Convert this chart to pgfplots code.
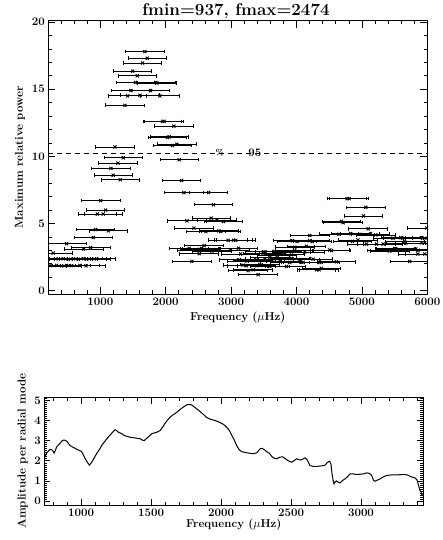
\documentclass[border=0pt]{standalone}
\usepackage{pgfplots}
\pgfplotsset{compat=1.18}
\pgfplotsset{idl/.style={
    scale only axis, anchor=south west,
    axis line style={line width=0.8pt},
    tick align=inside, xtick pos=both, ytick pos=both,
    xticklabel pos=lower, yticklabel pos=left,
    tick style={black, line width=0.6pt},
    major tick length=7pt, minor tick length=3.5pt,
    ticklabel style={font=\fontsize{11.5}{13}\selectfont\bfseries},
    /pgf/number format/assume math mode=true,
    /pgf/number format/1000 sep={},
    label style={font=\fontsize{11.5}{13}\selectfont\bfseries},
}}
\begin{document}
\begin{tikzpicture}[x=1pt,y=1pt]
\useasboundingbox (0,0) rectangle (443,540);
\node[font=\fontsize{17}{19}\selectfont\bfseries] at (236,529) {fmin=937, fmax=2474};
% top panel: maximum relative power
\begin{axis}[idl,
    at={(48.3pt,246pt)}, width=379pt, height=273.3pt,
    xmin=205, xmax=6000, ymin=-0.25, ymax=20.1,
    xtick={1000,2000,...,6000}, minor xtick={400,600,...,5800},
    ytick={0,5,...,20}, minor ytick={1,2,...,19},
    xlabel={Frequency ($\mu$Hz)}, ylabel={Maximum relative power},
    xlabel style={at={(axis description cs:0.5,-0.0867)}, anchor=center},
    ylabel style={at={(axis description cs:-0.0747,0.5)}, anchor=center},
]
\addplot[black, dashed, line width=0.7pt, dash pattern=on 5pt off 4pt] coordinates {(205,10.25)(6000,10.25)};
\node[font=\fontsize{8.5}{10}\selectfont\bfseries] at (axis cs:2828,10.25) {\%};
\node[font=\fontsize{11.5}{13}\selectfont\bfseries] at (axis cs:3363,10.25) {95};
\addplot[black, only marks, mark=x, mark size=2.2pt, line width=0.9pt,
    error bars/.cd, x dir=both, x fixed=295, error mark=|,
    error bar style={line width=0.8pt},
    error mark options={mark size=1.8pt, line width=0.8pt}]
coordinates {
(1682,17.8)(1718,17.3)(1646,16.95)(1494,16.35)(1565,16.0)(1539,15.5)(1850,15.5)(1865,15.45)
(1468,14.9)(1769,14.9)(1417,14.5)(1606,14.55)(1911,14.5)(1376,13.8)(1952,12.6)(1977,12.6)
(2125,12.25)(2028,11.4)(2054,11.45)(2104,10.8)(2171,10.9)(1224,10.7)(1351,9.9)(2207,9.75)
(1269,9.5)(1162,9.1)(1198,8.6)(1305,8.25)(2242,8.2)(2278,7.3)(2655,7.3)(2731,6.4)
(1005,6.7)(1081,6.0)(954,5.7)(1045,5.7)(2324,5.2)(2431,4.65)(2696,5.4)(2782,5.25)
(2884,5.15)(2614,4.4)(2812,4.45)(2843,4.4)(2955,3.75)(3036,3.75)(3072,3.75)
(928,4.55)(1122,4.45)(893,3.95)(485,3.5)(745,3.1)(852,3.2)(281,2.8)
(358,2.36)(434,2.38)(511,2.34)(587,2.37)(663,2.33)(740,2.38)(791,2.35)(867,2.36)(943,2.37)
(230,1.86)(332,1.88)(409,1.84)(485,1.87)(561,1.86)(689,1.88)(781,1.85)
(2359,3.15)(2471,3.03)(2517,3.08)(2548,3.15)(2588,3.35)(2706,2.95)(2991,3.03)(3113,3.15)
(2512,2.75)(2400,2.18)
(3521,2.9)(3668,2.92)(3775,2.9)(3969,2.97)
(3123,2.3)(3246,2.2)(3388,2.3)(3516,2.35)(3658,2.35)(3745,2.2)(3897,2.4)
(3184,1.9)(3235,1.85)(3388,1.85)(3439,1.95)(3592,1.8)(3846,1.8)
(3261,1.49)(3337,1.55)(3414,1.19)
(3337,2.23)(3490,2.78)(3592,2.48)(3704,2.6)(3821,2.73)(3897,2.1)(3143,2.73)
(4773,6.85)(4804,6.85)(5059,6.2)(5023,5.56)(4687,5.16)(4712,5.06)(5094,4.6)(5990,4.66)
(4651,4.2)(4830,4.25)(4967,4.2)(5130,4.22)(5211,4.15)
(5593,3.95)(5619,3.9)(5909,3.95)(5960,3.9)(4203,4.1)(4855,3.67)(4941,3.77)
(5069,3.47)(5222,3.47)(5324,3.47)(5655,3.65)(5670,3.55)(5909,3.55)(5960,3.55)
(3938,3.72)(4009,3.65)(4203,3.72)(4244,3.65)(4152,3.3)(3974,3.23)(4508,3.03)(4534,2.98)
(3923,2.88)(4127,2.88)(3923,2.4)(4050,2.3)(4254,2.35)
(4065,2.13)(4101,2.1)(4356,2.1)(4610,2.15)(4305,1.55)(4346,1.55)(4381,1.66)
(5374,3.0)(5425,2.95)(5517,3.1)(5823,3.1)(5858,3.0)(5731,2.18)(5960,2.73)
(5477,3.9)(5502,3.13)(5853,2.73)
};
\end{axis}
% bottom panel: amplitude per radial mode
\begin{axis}[idl,
    at={(44.3pt,35pt)}, width=379pt, height=107.5pt,
    xmin=737, xmax=3445, ymin=-0.2, ymax=5.15,
    xtick={1000,1500,...,3000}, minor xtick={800,900,...,3400},
    ytick={0,1,...,5}, minor ytick={0,0.1,...,5.1},
    major tick length=6pt, minor tick length=3pt,
    xlabel={Frequency ($\mu$Hz)}, ylabel={Amplitude per radial mode},
    xlabel style={at={(axis description cs:0.5,-0.18)}, anchor=center},
    ylabel style={at={(axis description cs:-0.057,0.5)}, anchor=center},
]
\addplot[black, line width=1pt] coordinates {
(737,2.17)(745,2.25)(755,2.4)(768,2.5)(779,2.57)(790,2.55)(800,2.48)(807,2.38)(815,2.5)
(826,2.7)(840,2.8)(850,2.87)(862,2.98)(874,3.03)(886,3.02)(898,2.97)(910,2.85)(921,2.76)
(940,2.68)(957,2.62)(975,2.55)(993,2.5)(1005,2.45)(1017,2.28)(1030,2.1)(1045,1.92)
(1060,1.78)(1075,1.92)(1088,2.07)(1110,2.35)(1136,2.62)(1150,2.8)(1171,2.98)(1190,3.15)
(1207,3.28)(1225,3.42)(1243,3.55)(1255,3.5)(1267,3.42)(1290,3.35)(1310,3.25)(1326,3.22)
(1350,3.17)(1374,3.15)(1400,3.12)(1421,3.1)(1438,3.03)(1450,3.0)(1469,3.12)(1490,3.25)
(1505,3.35)(1540,3.42)(1564,3.5)(1585,3.7)(1600,3.87)(1620,4.05)(1636,4.17)(1655,4.28)
(1671,4.35)(1690,4.45)(1707,4.55)(1725,4.65)(1743,4.73)(1760,4.8)(1775,4.8)(1790,4.78)
(1805,4.7)(1820,4.62)(1850,4.45)(1875,4.3)(1898,4.15)(1920,4.08)(1945,4.03)(1970,3.97)
(1993,3.9)(2020,3.8)(2040,3.67)(2060,3.5)(2076,3.28)(2095,3.02)(2112,2.75)(2130,2.55)
(2148,2.45)(2165,2.43)(2183,2.4)(2200,2.38)(2231,2.35)(2255,2.4)(2267,2.5)(2280,2.6)
(2292,2.62)(2310,2.55)(2326,2.45)(2345,2.38)(2362,2.22)(2380,2.12)(2398,2.1)(2420,2.18)
(2440,2.2)(2460,2.1)(2480,2.0)(2505,1.93)(2520,2.0)(2540,2.1)(2560,2.05)(2576,2.05)
(2600,2.15)(2615,2.05)(2636,1.76)(2660,1.72)(2700,1.73)(2743,1.78)(2760,1.92)(2775,1.98)
(2785,1.85)(2792,1.4)(2800,1.05)(2807,0.85)(2815,0.95)(2826,1.0)(2840,0.92)(2850,0.9)
(2870,1.03)(2886,1.1)(2905,1.22)(2921,1.35)(2940,1.35)(2957,1.33)(2993,1.33)(3020,1.35)
(3040,1.4)(3060,1.37)(3076,1.27)(3090,1.02)(3100,0.98)(3120,1.05)(3136,1.1)(3160,1.2)
(3183,1.27)(3220,1.3)(3260,1.3)(3300,1.32)(3330,1.3)(3360,1.2)(3386,1.15)(3400,1.05)
(3410,0.8)(3420,0.55)(3428,0.45)(3435,0.3)(3445,0.3)
};
\end{axis}
\end{tikzpicture}
\end{document}
